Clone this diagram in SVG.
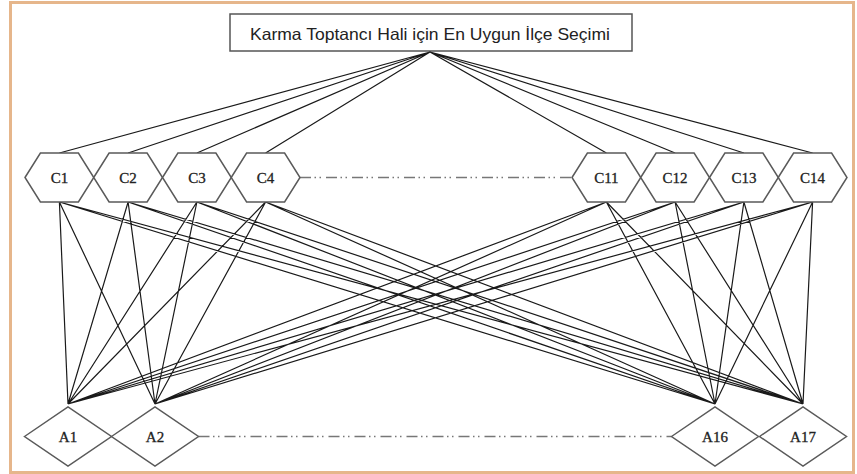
<svg xmlns="http://www.w3.org/2000/svg" width="857" height="474" viewBox="0 0 857 474">
<defs>
<style>
.frame{fill:#fff;stroke:#e6b68b;stroke-width:3}
.title{fill:#fff;stroke:#555;stroke-width:1.5}
.tt{font-family:"Liberation Sans","Open Sans",sans-serif;font-size:16.5px;fill:#222;text-anchor:middle}
.hex,.dia{fill:#fff;stroke:#5a5a5a;stroke-width:1.5}
.lbl{font-family:"Liberation Serif","DejaVu Serif",serif;font-size:15px;fill:#222;text-anchor:middle;stroke:#222;stroke-width:0.3}
.ln{stroke:#1a1a1a;stroke-width:1.2;fill:none}
.dd{stroke:#777;stroke-width:1.5;fill:none;stroke-dasharray:11 3.5 1.5 3.5 1.5 5}
</style>
<polygon id="hx" points="-34.4,0 -19,-24.5 19,-24.5 34.4,0 19,24.5 -19,24.5"/>
<polygon id="dm" points="-43.5,0 0,-29.5 43.5,0 0,29.5"/>
</defs>
<rect class="frame" x="10.5" y="2.5" width="843" height="470"/>
<g id="connectors">
<path class="ln" d="M430,52L59.4,153M430,52L128.1,153M430,52L196.9,153M430,52L265.6,153M430,52L606.4,153M430,52L675.1,153M430,52L743.9,153M430,52L812.6,153"/>
<path class="ln" d="M59.4,202L68,404M59.4,202L155,404M59.4,202L715,404M59.4,202L803,404
M128.1,202L68,404M128.1,202L155,404M128.1,202L715,404M128.1,202L803,404
M196.9,202L68,404M196.9,202L155,404M196.9,202L715,404M196.9,202L803,404
M265.6,202L68,404M265.6,202L155,404M265.6,202L715,404M265.6,202L803,404
M606.4,202L68,404M606.4,202L155,404M606.4,202L715,404M606.4,202L803,404
M675.1,202L68,404M675.1,202L155,404M675.1,202L715,404M675.1,202L803,404
M743.9,202L68,404M743.9,202L155,404M743.9,202L715,404M743.9,202L803,404
M812.6,202L68,404M812.6,202L155,404M812.6,202L715,404M812.6,202L803,404"/>
<path class="dd" d="M300,177.5H572"/>
<path class="dd" d="M198.5,436.5H671.5"/>
</g>
<g id="title">
<rect class="title" x="230" y="14" width="402" height="37"/>
<text class="tt" x="430" y="40" textLength="360" lengthAdjust="spacingAndGlyphs">Karma Toptancı Hali için En Uygun İlçe Seçimi</text>
</g>
<g id="C1"><use href="#hx" class="hex" x="59.4" y="177.5"/><text class="lbl" x="59.4" y="182.5">C1</text></g>
<g id="C2"><use href="#hx" class="hex" x="128.1" y="177.5"/><text class="lbl" x="128.1" y="182.5">C2</text></g>
<g id="C3"><use href="#hx" class="hex" x="196.9" y="177.5"/><text class="lbl" x="196.9" y="182.5">C3</text></g>
<g id="C4"><use href="#hx" class="hex" x="265.6" y="177.5"/><text class="lbl" x="265.6" y="182.5">C4</text></g>
<g id="C11"><use href="#hx" class="hex" x="606.4" y="177.5"/><text class="lbl" x="606.4" y="182.5">C11</text></g>
<g id="C12"><use href="#hx" class="hex" x="675.1" y="177.5"/><text class="lbl" x="675.1" y="182.5">C12</text></g>
<g id="C13"><use href="#hx" class="hex" x="743.9" y="177.5"/><text class="lbl" x="743.9" y="182.5">C13</text></g>
<g id="C14"><use href="#hx" class="hex" x="812.6" y="177.5"/><text class="lbl" x="812.6" y="182.5">C14</text></g>
<g id="A1"><use href="#dm" class="dia" x="68" y="436.5"/><text class="lbl" x="68" y="441.5">A1</text></g>
<g id="A2"><use href="#dm" class="dia" x="155" y="436.5"/><text class="lbl" x="155" y="441.5">A2</text></g>
<g id="A16"><use href="#dm" class="dia" x="715" y="436.5"/><text class="lbl" x="715" y="441.5">A16</text></g>
<g id="A17"><use href="#dm" class="dia" x="803" y="436.5"/><text class="lbl" x="803" y="441.5">A17</text></g>
</svg>
